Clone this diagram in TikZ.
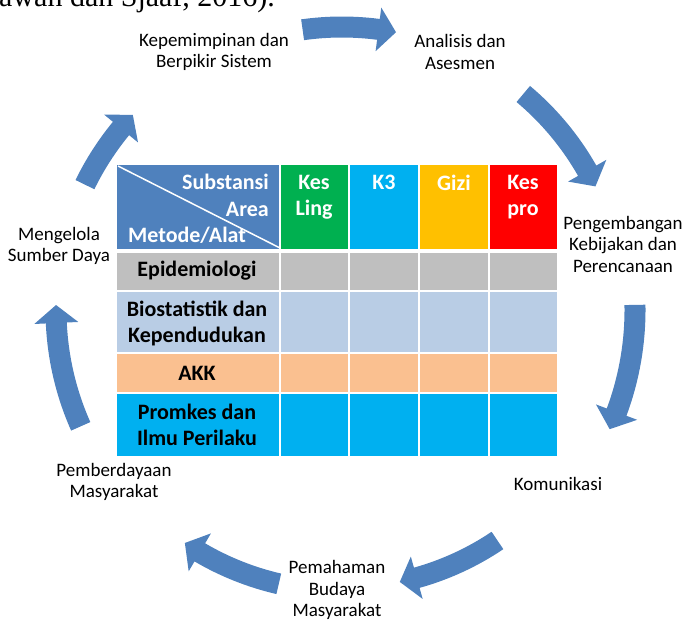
\documentclass[tikz,border=0pt]{standalone}
\usepackage{fontspec}
\setmainfont{Carlito}
\newfontfamily\citefont{Liberation Serif}
\usetikzlibrary{calc}
\definecolor{arrowblue}{HTML}{4F81BD}
\definecolor{kesling}{HTML}{00B050}
\definecolor{kthree}{HTML}{00B0F0}
\definecolor{gizi}{HTML}{FFC000}
\definecolor{kespro}{HTML}{FF0000}
\definecolor{epigray}{HTML}{BFBFBF}
\definecolor{biostat}{HTML}{B9CDE5}
\definecolor{akk}{HTML}{FAC090}
\definecolor{promkes}{HTML}{00B0F0}
% curved block arrow round (ctr): start angle, tip angle, radius
\newcommand{\bendarrow}[3]{%
  \fill[arrowblue] ($(ctr)+(#1:#3+10.5)$) arc[start angle=#1, end angle=#2-3.6, radius=#3+10.5]
    -- ($(ctr)+(#2-3.6:#3+22)$) -- ($(ctr)+(#2:#3)$) -- ($(ctr)+(#2-3.6:#3-22)$)
    -- ($(ctr)+(#2-3.6:#3-10.5)$) arc[start angle=#2-3.6, end angle=#1, radius=#3-10.5] -- cycle;}
\begin{document}
\begin{tikzpicture}[x=1pt, y=-1pt,
    lbl/.style={align=center, inner sep=0pt, font=\fontsize{19}{21.5}\selectfont},
    row/.style={align=center, inner sep=0pt, font=\bfseries\fontsize{22}{26}\selectfont},
    head/.style={row, text=white},
    grid/.style={white, line width=2pt}]
  \useasboundingbox (0,0) rectangle (685,619);
  \coordinate (ctr) at (342,310);
  % citation, cut off at the top
  \node[anchor=base west, inner sep=0pt, font=\citefont\fontsize{30}{32}\selectfont] (cite) at (-1,6) {awan dan Sjaaf, 2016).};
  %
  % cycle arrows
  \bendarrow{-98}{-79}{283}
  \bendarrow{-50}{-26}{282}
  \bendarrow{-1}{24}{293}
  \bendarrow{56}{78}{278}
  \bendarrow{103}{124}{281}
  \bendarrow{156}{181}{286}
  \bendarrow{206}{223}{286}
  %
  \node[lbl] (lead) at (214,52) {Kepemimpinan dan\\Berpikir Sistem};
  \node[lbl] (analisis) at (460,52) {Analisis dan\\Asesmen};
  \node[lbl] (kebijakan) at (623,244) {Pengembangan\\Kebijakan dan\\Perencanaan};
  \node[lbl] (komunikasi) at (558,484) {Komunikasi};
  \node[lbl] (budaya) at (337,590) {Pemahaman\\Budaya\\Masyarakat};
  \node[lbl] (berdaya) at (114,482) {Pemberdayaan\\Masyarakat};
  \node[lbl] (sumber) at (59,246) {Mengelola\\Sumber Daya};
  %
  % table
  \fill[arrowblue] (117,165) rectangle (280,249);
  \fill[kesling] (280,165) rectangle (349,249);
  \fill[kthree] (349,165) rectangle (419,249);
  \fill[gizi] (419,165) rectangle (489,249);
  \fill[kespro] (489,165) rectangle (557,249);
  \fill[epigray] (117,253) rectangle (557,291);
  \fill[biostat] (117,291) rectangle (557,353);
  \fill[akk] (117,353) rectangle (557,393);
  \fill[promkes] (117,393) rectangle (557,456);
  \draw[grid] (280,165) -- (280,456) (349,165) -- (349,456)
              (419,165) -- (419,456) (489,165) -- (489,456)
              (117,291) -- (557,291) (117,353) -- (557,353)
              (117,393) -- (557,393);
  \draw[white, line width=1.5pt] (118,166) -- (280,248);
  %
  \node[head, anchor=east] (substansi) at (269,182) {Substansi};
  \node[head, anchor=east] (area) at (269,209) {Area};
  \node[head, anchor=west] (metode) at (128,235) {Metode/Alat};
  \node[head, anchor=north] (ling) at (314,175) {Kes\\Ling};
  \node[head, anchor=north] (k3) at (384,175) {K3};
  \node[head, anchor=north] (gz) at (454,175) {Gizi};
  \node[head, anchor=north] (pro) at (523,175) {Kes\\pro};
  \node[row] (epi) at (197,271) {Epidemiologi};
  \node[row] (bio) at (197,323) {Biostatistik dan\\Kependudukan};
  \node[row] (akkrow) at (197,373) {AKK};
  \node[row] (promk) at (197,425) {Promkes dan\\Ilmu Perilaku};
\end{tikzpicture}
\end{document}
